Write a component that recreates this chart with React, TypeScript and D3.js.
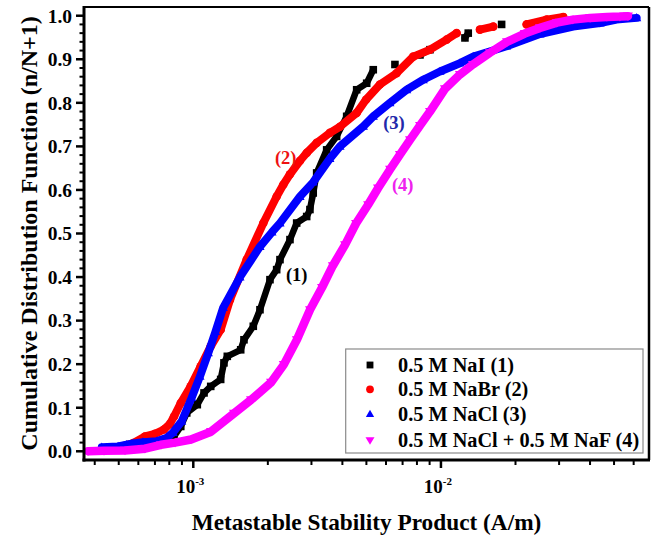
import React from 'react';
import * as d3 from 'd3';

const W = 659;
const H = 537;
const PLOT_LEFT = 84;
const PLOT_RIGHT = 649;
const PLOT_TOP = 7;
const PLOT_BOTTOM = 460;

const xDomain = [3.62e-4, 0.0692];
const yDomain = [-0.02, 1.02];

const yTickValues = [0, 0.1, 0.2, 0.3, 0.4, 0.5, 0.6, 0.7, 0.8, 0.9, 1.0];
const yTickLabels = ['0.0', '0.1', '0.2', '0.3', '0.4', '0.5', '0.6', '0.7', '0.8', '0.9', '1.0'];
const xMajorTicks = [1e-3, 1e-2];
const xTickBase = ['10', '10'];
const xTickExp = ['-3', '-2'];

const legendLabels = [
  '0.5 M NaI (1)',
  '0.5 M NaBr (2)',
  '0.5 M NaCl (3)',
  '0.5 M NaCl + 0.5 M NaF (4)',
];

// (1) 0.5 M NaI
const xNaI = [7.91e-4, 8.36e-4, 8.9e-4, 9.41e-4, 1.038e-3, 1.105e-3, 1.176e-3, 1.29e-3, 1.33e-3, 1.372e-3,
  1.554e-3, 1.602e-3, 1.747e-3, 1.859e-3, 2.04e-3, 2.171e-3, 2.239e-3, 2.457e-3, 2.615e-3, 2.87e-3,
  2.958e-3, 3.05e-3, 3.149e-3, 3.456e-3, 3.792e-3, 4.162e-3, 4.568e-3, 5.013e-3, 5.33e-3, 6.52e-3,
  8.23e-3, 9.03e-3, 1.25e-2, 1.289e-2, 1.758e-2];
const yNaI = [0.022, 0.034, 0.057, 0.088, 0.107, 0.134, 0.149, 0.165, 0.203, 0.218,
  0.233, 0.256, 0.287, 0.325, 0.394, 0.417, 0.44, 0.486, 0.524, 0.539,
  0.555, 0.593, 0.639, 0.692, 0.723, 0.769, 0.83, 0.845, 0.876, 0.888,
  0.91, 0.922, 0.949, 0.96, 0.98];

// (2) 0.5 M NaBr
const xNaBr = [5.03e-4, 5.73e-4, 6.38e-4, 7.0e-4, 7.61e-4, 8.05e-4, 8.36e-4, 8.9e-4, 9.76e-4, 1.071e-3,
  1.176e-3, 1.29e-3, 1.407e-3, 1.643e-3, 1.918e-3, 2.171e-3, 2.308e-3, 2.457e-3, 2.697e-3, 2.87e-3,
  3.15e-3, 3.56e-3, 3.91e-3, 4.57e-3, 4.98e-3, 5.67e-3, 6.62e-3, 7.73e-3, 9.03e-3, 1.054e-2,
  1.157e-2, 1.437e-2, 1.626e-2, 2.218e-2, 2.67e-2, 3.12e-2];
const yNaBr = [0.01, 0.019, 0.034, 0.04, 0.05, 0.063, 0.08, 0.111, 0.149, 0.195,
  0.241, 0.279, 0.348, 0.44, 0.524, 0.585, 0.612, 0.636, 0.667, 0.685,
  0.708, 0.731, 0.745, 0.777, 0.807, 0.842, 0.868, 0.906, 0.922, 0.945,
  0.96, 0.968, 0.975, 0.98, 0.991, 0.997];

// (3) 0.5 M NaCl
const xNaCl = [4.27e-4, 4.97e-4, 5.38e-4, 5.71e-4, 6.26e-4, 7.11e-4, 7.81e-4, 8.28e-4, 8.98e-4, 9.85e-4,
  1.064e-3, 1.15e-3, 1.23e-3, 1.321e-3, 1.543e-3, 1.859e-3, 2.078e-3, 2.239e-3, 2.697e-3, 3.05e-3,
  3.56e-3, 3.91e-3, 4.86e-3, 5.33e-3, 6.22e-3, 7.27e-3, 8.48e-3, 9.91e-3, 1.193e-2, 1.35e-2,
  1.842e-2, 2.51e-2, 3.42e-2, 4.39e-2, 5.12e-2, 6.17e-2];
const yNaCl = [0.009, 0.011, 0.015, 0.018, 0.021, 0.023, 0.031, 0.043, 0.069, 0.123,
  0.172, 0.226, 0.275, 0.33, 0.4, 0.47, 0.503, 0.524, 0.585, 0.618,
  0.672, 0.7, 0.746, 0.769, 0.8, 0.83, 0.853, 0.872, 0.891, 0.906,
  0.93, 0.958, 0.975, 0.983, 0.991, 0.995];

// (4) 0.5 M NaCl + 0.5 M NaF
const xMix = [3.757e-4, 4.36e-4, 5.3e-4, 6.38e-4, 7.41e-4, 8.44e-4, 9.79e-4, 1.179e-3, 1.46e-3, 1.71e-3,
  2.06e-3, 2.32e-3, 2.62e-3, 2.96e-3, 3.31e-3, 3.66e-3, 4.1e-3, 4.54e-3, 5.08e-3, 5.57e-3,
  6.23e-3, 6.83e-3, 7.5e-3, 8.23e-3, 9.03e-3, 1.038e-2, 1.193e-2, 1.347e-2, 1.577e-2, 1.848e-2,
  2.18e-2, 2.51e-2, 2.94e-2, 3.41e-2, 4.0e-2, 4.68e-2, 5.28e-2, 5.69e-2];
const yMix = [0.0, 0.001, 0.002, 0.006, 0.015, 0.02, 0.027, 0.045, 0.087, 0.118,
  0.158, 0.199, 0.256, 0.325, 0.376, 0.426, 0.474, 0.523, 0.566, 0.604,
  0.647, 0.681, 0.715, 0.748, 0.78, 0.832, 0.865, 0.888, 0.915, 0.94,
  0.959, 0.972, 0.984, 0.991, 0.995, 0.997, 0.998, 0.999];

const FONT = '"Liberation Serif", "Times New Roman", serif';

type Series = { xs: number[]; ys: number[]; color: string; marker: string; maxDx: number; width: number };

const seriesList: Series[] = [
  { xs: xNaI, ys: yNaI, color: '#000000', marker: 'square', maxDx: 20, width: 6.5 },
  { xs: xNaBr, ys: yNaBr, color: '#ff0000', marker: 'circle', maxDx: 20, width: 8 },
  { xs: xNaCl, ys: yNaCl, color: '#0000ff', marker: 'up', maxDx: 40, width: 8 },
  { xs: xMix, ys: yMix, color: '#ff00ff', marker: 'down', maxDx: 40, width: 8.5 },
];

function Marker({ kind, x, y, color, s = 1 }: { kind: string; x: number; y: number; color: string; s?: number }) {
  if (kind === 'square') return <rect x={x - 3.8 * s} y={y - 3.8 * s} width={7.6 * s} height={7.6 * s} fill={color} />;
  if (kind === 'circle') return <circle cx={x} cy={y} r={4.3 * s} fill={color} />;
  if (kind === 'up') return <path d={`M${x},${y - 4.8 * s}L${x + 4.6 * s},${y + 3.4 * s}L${x - 4.6 * s},${y + 3.4 * s}Z`} fill={color} />;
  return <path d={`M${x},${y + 4.8 * s}L${x + 5 * s},${y - 3.6 * s}L${x - 5 * s},${y - 3.6 * s}Z`} fill={color} />;
}

export default function App() {
  const x = d3.scaleLog().domain(xDomain).range([PLOT_LEFT, PLOT_RIGHT]);
  const y = d3.scaleLinear().domain(yDomain).range([PLOT_BOTTOM, PLOT_TOP]);

  const yMinor = d3.range(0, 1.0001, 0.02).filter((v) => Math.abs(v * 10 - Math.round(v * 10)) > 1e-6);
  const xMinor: number[] = [];
  [1e-4, 1e-3, 1e-2].forEach((d) => {
    for (let k = 2; k <= 9; k++) {
      const v = k * d;
      if (v >= xDomain[0] && v <= xDomain[1]) xMinor.push(v);
    }
  });

  const legendRows = [365, 389.3, 414, 440.5];

  return (
    <svg width={W} height={H} style={{ position: 'absolute', left: 0, top: 0, background: '#fff' }}>
      <rect x={0} y={0} width={W} height={H} fill="#fff" />
      {/* data */}
      {seriesList.map((s, si) => {
        const pts = s.xs.map((xv, i) => [x(xv), y(s.ys[i])] as [number, number]);
        const segs: string[] = [];
        for (let i = 1; i < pts.length; i++) {
          const [x0, y0] = pts[i - 1];
          const [x1, y1] = pts[i];
          if (Math.abs(x1 - x0) <= s.maxDx) segs.push(`M${x0},${y0}L${x1},${y1}`);
        }
        return (
          <g key={si}>
            <path d={segs.join('')} stroke={s.color} strokeWidth={s.width} fill="none" strokeLinecap="round" strokeLinejoin="round" />
            {pts.map(([px, py], i) => (
              <Marker key={i} kind={s.marker} x={px} y={py} color={s.color} />
            ))}
          </g>
        );
      })}
      {/* frame */}
      <line x1={PLOT_LEFT} x2={PLOT_RIGHT} y1={PLOT_TOP} y2={PLOT_TOP} stroke="#000" strokeWidth={2.2} />
      <line x1={PLOT_RIGHT} x2={PLOT_RIGHT} y1={PLOT_TOP} y2={PLOT_BOTTOM} stroke="#000" strokeWidth={2.5} />
      <line x1={PLOT_LEFT} x2={PLOT_LEFT} y1={PLOT_TOP - 1} y2={PLOT_BOTTOM + 1.5} stroke="#000" strokeWidth={3} />
      <line x1={PLOT_LEFT - 1.5} x2={PLOT_RIGHT + 1} y1={PLOT_BOTTOM} y2={PLOT_BOTTOM} stroke="#000" strokeWidth={3} />
      {/* y ticks */}
      {yTickValues.map((v, i) => (
        <g key={'yt' + i}>
          <line x1={PLOT_LEFT - 8} x2={PLOT_LEFT} y1={y(v)} y2={y(v)} stroke="#000" strokeWidth={2.5} />
          <text x={72} y={y(v)} dy="0.35em" textAnchor="end" fontFamily={FONT} fontWeight="bold" fontSize={19.5}>
            {yTickLabels[i]}
          </text>
        </g>
      ))}
      {yMinor.map((v, i) => (
        <line key={'ym' + i} x1={PLOT_LEFT - 4.5} x2={PLOT_LEFT} y1={y(v)} y2={y(v)} stroke="#000" strokeWidth={2} />
      ))}
      {/* x ticks */}
      {xMajorTicks.map((v, i) => (
        <g key={'xt' + i}>
          <line x1={x(v)} x2={x(v)} y1={PLOT_BOTTOM} y2={PLOT_BOTTOM + 8} stroke="#000" strokeWidth={2.5} />
          <text x={x(v) - 3} y={493} textAnchor="middle" fontFamily={FONT} fontWeight="bold" fontSize={19}>
            {xTickBase[i]}
            <tspan dy={-8} fontSize={11}>{xTickExp[i]}</tspan>
          </text>
        </g>
      ))}
      {xMinor.map((v, i) => (
        <line key={'xm' + i} x1={x(v)} x2={x(v)} y1={PLOT_BOTTOM} y2={PLOT_BOTTOM + 5} stroke="#000" strokeWidth={2} />
      ))}
      {/* axis titles */}
      <text x={(PLOT_LEFT + PLOT_RIGHT) / 2} y={530} textAnchor="middle" fontFamily={FONT} fontWeight="bold" fontSize={23.3}>
        Metastable Stability Product (A/m)
      </text>
      <text
        transform={`translate(37,${(PLOT_TOP + PLOT_BOTTOM) / 2}) rotate(-90)`}
        textAnchor="middle"
        fontFamily={FONT}
        fontWeight="bold"
        fontSize={24}
      >
        Cumulative Distribution Function (n/N+1)
      </text>
      {/* curve annotations */}
      <text x={296.7} y={275} dy="0.35em" textAnchor="middle" fontFamily={FONT} fontWeight="bold" fontSize={18.5} fill="#000">(1)</text>
      <text x={285.7} y={157.5} dy="0.35em" textAnchor="middle" fontFamily={FONT} fontWeight="bold" fontSize={18.5} fill="#ee1111">(2)</text>
      <text x={394} y={122.3} dy="0.35em" textAnchor="middle" fontFamily={FONT} fontWeight="bold" fontSize={18.5} fill="#2228aa">(3)</text>
      <text x={402.7} y={185} dy="0.35em" textAnchor="middle" fontFamily={FONT} fontWeight="bold" fontSize={18.5} fill="#ee22ee">(4)</text>
      {/* legend */}
      <rect x={345.7} y={349} width={297.3} height={104} fill="#fff" stroke="#8a8a8a" strokeWidth={1.2} />
      {seriesList.map((s, i) => (
        <g key={'lg' + i}>
          <Marker kind={s.marker} x={370} y={legendRows[i]} color={s.color} s={0.9} />
          <text x={398} y={legendRows[i]} dy="0.33em" fontFamily={FONT} fontWeight="bold" fontSize={20.3}>
            {legendLabels[i]}
          </text>
        </g>
      ))}
    </svg>
  );
}
